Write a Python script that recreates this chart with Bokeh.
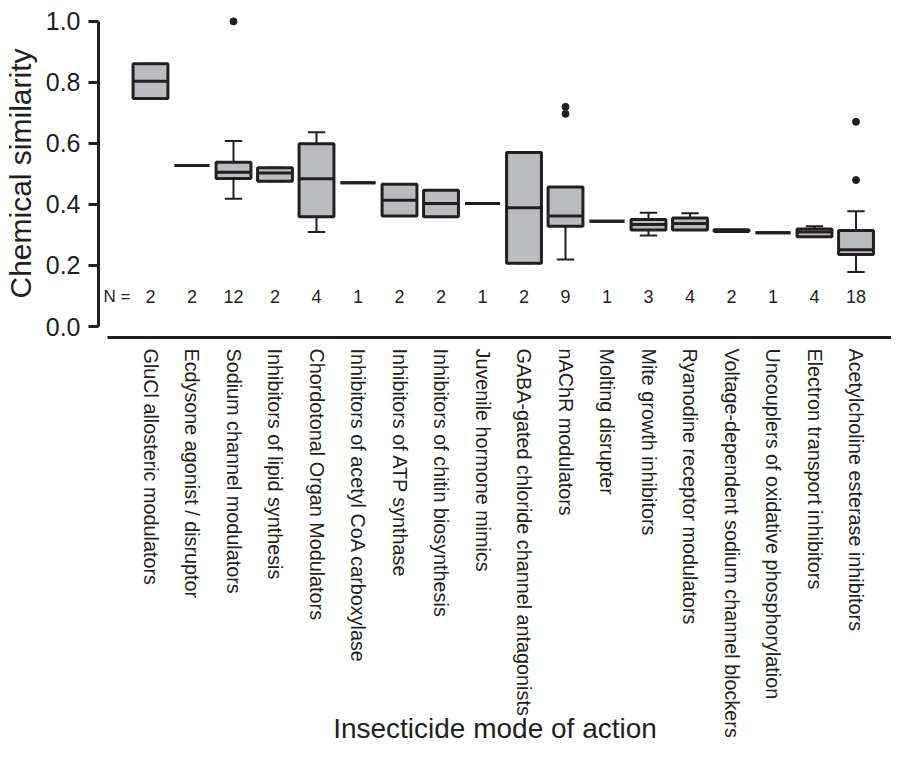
import math
from bokeh.plotting import figure
from bokeh.models import ColumnDataSource, FixedTicker, Label, NumeralTickFormatter
from bokeh.core.properties import value
from bokeh.embed import file_html
from bokeh.resources import INLINE

categories = [
    "GluCl allosteric modulators",
    "Ecdysone agonist / disruptor",
    "Sodium channel modulators",
    "Inhibitors of lipid synthesis",
    "Chordotonal Organ Modulators",
    "Inhibitors of acetyl CoA carboxylase",
    "Inhibitors of ATP synthase",
    "Inhibitors of chitin biosynthesis",
    "Juvenile hormone mimics",
    "GABA-gated chloride channel antagonists",
    "nAChR modulators",
    "Molting disrupter",
    "Mite growth inhibitors",
    "Ryanodine receptor modulators",
    "Voltage-dependent sodium channel blockers",
    "Uncouplers of oxidative phosphorylation",
    "Electron transport inhibitors",
    "Acetylcholine esterase inhibitors",
]
n_counts = [2, 2, 12, 2, 4, 1, 2, 2, 1, 2, 9, 1, 3, 4, 2, 1, 4, 18]
q1 = [0.747, 0.528, 0.485, 0.476, 0.360, 0.471, 0.362, 0.360, 0.403, 0.207,
      0.329, 0.345, 0.316, 0.316, 0.311, 0.307, 0.294, 0.236]
median = [0.804, 0.528, 0.506, 0.503, 0.484, 0.471, 0.414, 0.403, 0.403, 0.389,
          0.362, 0.345, 0.334, 0.338, 0.314, 0.307, 0.310, 0.252]
q3 = [0.861, 0.528, 0.538, 0.520, 0.599, 0.471, 0.466, 0.447, 0.403, 0.570,
      0.457, 0.345, 0.351, 0.356, 0.317, 0.307, 0.320, 0.315]
whisker_lo = [0.747, 0.528, 0.419, 0.476, 0.310, 0.471, 0.362, 0.360, 0.403, 0.207,
              0.220, 0.345, 0.298, 0.316, 0.311, 0.307, 0.294, 0.179]
whisker_hi = [0.861, 0.528, 0.608, 0.520, 0.637, 0.471, 0.466, 0.447, 0.403, 0.570,
              0.457, 0.345, 0.373, 0.371, 0.317, 0.307, 0.329, 0.378]
outlier_cat = [2, 10, 10, 17, 17]
outlier_val = [1.0, 0.720, 0.697, 0.671, 0.480]
y_ticks = [0.0, 0.2, 0.4, 0.6, 0.8, 1.0]

FONT = "Liberation Sans"
TXT = "#231f20"
BOX_W = 0.84
CAP_W = 0.42

xs = list(range(len(categories)))
src = ColumnDataSource(dict(
    x=xs, q1=q1, med=median, q3=q3, lo=whisker_lo, hi=whisker_hi,
    left=[x - BOX_W / 2 for x in xs], right=[x + BOX_W / 2 for x in xs],
    cl=[x - CAP_W / 2 for x in xs], cr=[x + CAP_W / 2 for x in xs],
    n=[str(v) for v in n_counts], ny=[0.1] * len(xs),
))

p = figure(width=891, height=752, output_backend="svg", toolbar_location=None,
           x_range=(-1.253, 17.855), y_range=(-0.036, 1.039),
           min_border_left=98, min_border_right=0, min_border_top=9,
           min_border_bottom=415)
p.outline_line_color = None
p.grid.visible = False
p.background_fill_color = "white"
p.border_fill_color = "white"

# whiskers
p.segment(x0="x", x1="x", y0="q3", y1="hi", source=src, line_color=TXT, line_width=2)
p.segment(x0="x", x1="x", y0="q1", y1="lo", source=src, line_color=TXT, line_width=2)
p.segment(x0="cl", x1="cr", y0="hi", y1="hi", source=src, line_color=TXT, line_width=2)
p.segment(x0="cl", x1="cr", y0="lo", y1="lo", source=src, line_color=TXT, line_width=2)
# boxes
p.quad(left="left", right="right", bottom="q1", top="q3", source=src,
       fill_color="#bbbcc0", line_color=TXT, line_width=3)
# medians
p.segment(x0="left", x1="right", y0="med", y1="med", source=src, line_color=TXT, line_width=3)
# outliers
p.scatter(x=outlier_cat, y=outlier_val, size=7, color=TXT)

# N labels
p.text(x="x", y="ny", text="n", source=src, text_align="center", text_baseline="middle",
       text_font=value(FONT), text_font_size="18px", text_color=TXT)
p.add_layout(Label(x=-1.13, y=0.1, text="N =", text_align="left", text_baseline="middle",
                   text_font=FONT, text_font_size="17px", text_color=TXT))

# y axis
ya = p.yaxis[0]
ya.ticker = FixedTicker(ticks=y_ticks)
ya.formatter = NumeralTickFormatter(format="0.0")
ya.bounds = (0, 1)
ya.axis_line_width = 3
ya.axis_line_color = TXT
ya.major_tick_line_width = 3
ya.major_tick_line_color = TXT
ya.major_tick_out = 10
ya.major_tick_in = 0
ya.minor_tick_line_color = None
ya.major_label_standoff = 8
ya.major_label_text_font = FONT
ya.major_label_text_font_size = "25px"
ya.major_label_text_color = TXT
ya.axis_label = "Chemical similarity"
ya.axis_label_text_font = FONT
ya.axis_label_text_font_size = "30px"
ya.axis_label_text_font_style = "normal"
ya.axis_label_text_color = TXT
ya.axis_label_standoff = 6

# x axis
xa = p.xaxis[0]
xa.ticker = FixedTicker(ticks=xs)
xa.major_label_overrides = {i: c for i, c in enumerate(categories)}
xa.bounds = (-1.036, 17.855)
xa.axis_line_width = 3
xa.axis_line_color = TXT
xa.major_tick_line_color = None
xa.major_tick_out = 0
xa.major_tick_in = 0
xa.minor_tick_line_color = None
xa.major_label_orientation = -math.pi / 2
xa.major_label_standoff = 11
xa.major_label_text_font = FONT
xa.major_label_text_font_size = "19.8px"
xa.major_label_text_color = TXT
xa.axis_label = "Insecticide mode of action"
xa.axis_label_text_font = FONT
xa.axis_label_text_font_size = "28px"
xa.axis_label_text_font_style = "normal"
xa.axis_label_text_color = TXT
xa.axis_label_standoff = -28

open("out.html", "w").write(file_html(p, INLINE))
